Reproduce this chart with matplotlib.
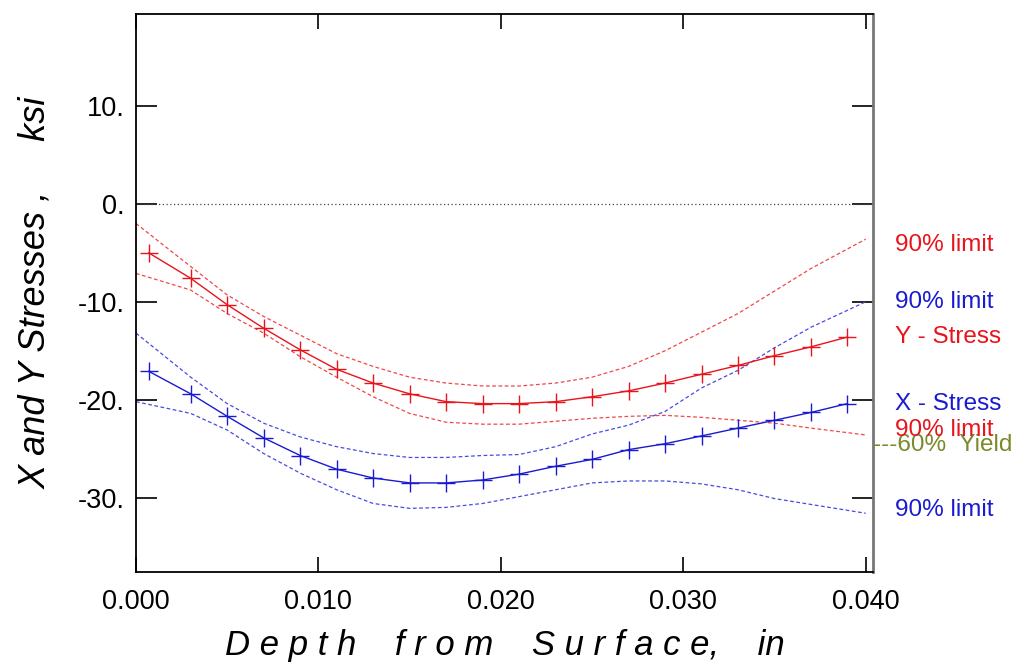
import numpy as np
import matplotlib
matplotlib.use("Agg")
import matplotlib.pyplot as plt
from matplotlib.ticker import FuncFormatter

plt.rcParams['font.family'] = ['Liberation Sans', 'DejaVu Sans']

# measured points (depth, in)
depth = [0.0007, 0.003, 0.005, 0.007, 0.009, 0.011, 0.013, 0.015, 0.017, 0.019,
         0.021, 0.023, 0.025, 0.027, 0.029, 0.031, 0.033, 0.035, 0.037, 0.039]
y_stress = [-5.0, -7.6, -10.3, -12.7, -14.9, -16.9, -18.3, -19.4, -20.2, -20.4,
            -20.4, -20.2, -19.7, -19.1, -18.3, -17.4, -16.5, -15.5, -14.6, -13.6]
x_stress = [-17.1, -19.4, -21.7, -23.9, -25.7, -27.1, -28.0, -28.5, -28.5, -28.2,
            -27.6, -26.8, -26.1, -25.1, -24.5, -23.7, -22.9, -22.1, -21.3, -20.4]

# 90% confidence limits
lim_depth = [0.0, 0.003, 0.005, 0.007, 0.009, 0.011, 0.013, 0.015, 0.017, 0.019,
             0.021, 0.023, 0.025, 0.027, 0.029, 0.031, 0.033, 0.035, 0.037, 0.040]
y_upper = [-2.0, -6.4, -9.3, -11.5, -13.4, -15.3, -16.6, -17.7, -18.3, -18.6,
           -18.6, -18.3, -17.7, -16.6, -15.0, -13.1, -11.2, -8.9, -6.6, -3.6]
y_lower = [-7.1, -8.8, -11.2, -13.2, -15.6, -17.7, -19.7, -21.4, -22.3, -22.5,
           -22.5, -22.2, -21.9, -21.7, -21.6, -21.8, -22.1, -22.4, -22.9, -23.6]
x_upper = [-13.2, -17.7, -20.4, -22.4, -23.8, -24.8, -25.5, -25.9, -25.9, -25.7,
           -25.6, -24.8, -23.5, -22.6, -21.2, -18.8, -17.0, -14.7, -12.6, -10.0]
x_lower = [-20.2, -21.4, -23.1, -25.5, -27.5, -29.2, -30.6, -31.1, -31.0, -30.6,
           -29.9, -29.2, -28.5, -28.3, -28.3, -28.6, -29.2, -30.1, -30.7, -31.6]

yield_60 = -24.6

red = '#e8141c'
blue = '#1a1ad0'
red_lim = '#f04848'
blue_lim = '#4a4ae0'

fig = plt.figure(figsize=(10.29, 6.70), dpi=100)
ax = fig.add_axes([136 / 1029, 1 - 572 / 670, (873 - 136) / 1029, (572 - 14) / 670])

ax.axhline(0, color='#444444', lw=0.9, ls=(0, (1, 2)))

ax.plot(lim_depth, y_upper, color=red_lim, lw=0.9, ls=(0, (3, 2)))
ax.plot(lim_depth, y_lower, color=red_lim, lw=0.9, ls=(0, (3, 2)))
ax.plot(lim_depth, x_upper, color=blue_lim, lw=0.9, ls=(0, (3, 2)))
ax.plot(lim_depth, x_lower, color=blue_lim, lw=0.9, ls=(0, (3, 2)))

ax.plot(depth, y_stress, color=red, lw=1.0, marker='+', ms=13, mew=1.0)
ax.plot(depth, x_stress, color=blue, lw=1.0, marker='+', ms=13, mew=1.0)

ax.set_xlim(0, 0.0404)
ax.set_ylim(-37.6, 19.4)
ax.set_xticks([0.0, 0.01, 0.02, 0.03, 0.04])
ax.set_yticks([10, 0, -10, -20, -30])
ax.xaxis.set_major_formatter(FuncFormatter(lambda v, p: f"{v:.3f}"))
ax.yaxis.set_major_formatter(FuncFormatter(lambda v, p: f"{v:.0f}."))
ax.tick_params(axis='both', direction='in', labelsize=19.5, width=1.2,
               top=True, right=True)
ax.tick_params(axis='x', length=11, pad=12)
ax.tick_params(axis='y', length=15, pad=8)
for s in ax.spines.values():
    s.set_linewidth(1.3)
ax.spines['right'].set_color('#777777')
ax.spines['right'].set_linewidth(2)

ax.set_xlabel("D e p t h    f r o m    S u r f a c e,    in", fontsize=25,
              style='italic', labelpad=10)
ax.set_ylabel("X and Y Stresses ,     ksi", fontsize=26, style='italic',
              labelpad=18)

# right side labels
tx = 0.04163
fs = 17.5
ax.text(tx, -4.2, "90% limit", color=red, fontsize=fs, va='center',
        clip_on=False)
ax.text(tx, x_upper[-1], "90% limit", color=blue, fontsize=fs, va='center',
        clip_on=False)
ax.text(tx, y_stress[-1], "Y - Stress", color=red, fontsize=fs, va='center',
        clip_on=False)
ax.text(tx, x_stress[-1], "X - Stress", color=blue, fontsize=fs, va='center',
        clip_on=False)
ax.text(0.0404, yield_60, "---60%  Yield", color='#7a8a2a', fontsize=fs,
        va='center', clip_on=False)
ax.text(tx, -23.1, "90% limit", color=red, fontsize=fs, va='center',
        clip_on=False)
ax.text(tx, -31.3, "90% limit", color=blue, fontsize=fs, va='center',
        clip_on=False)

fig.savefig("out.png", dpi=100)
